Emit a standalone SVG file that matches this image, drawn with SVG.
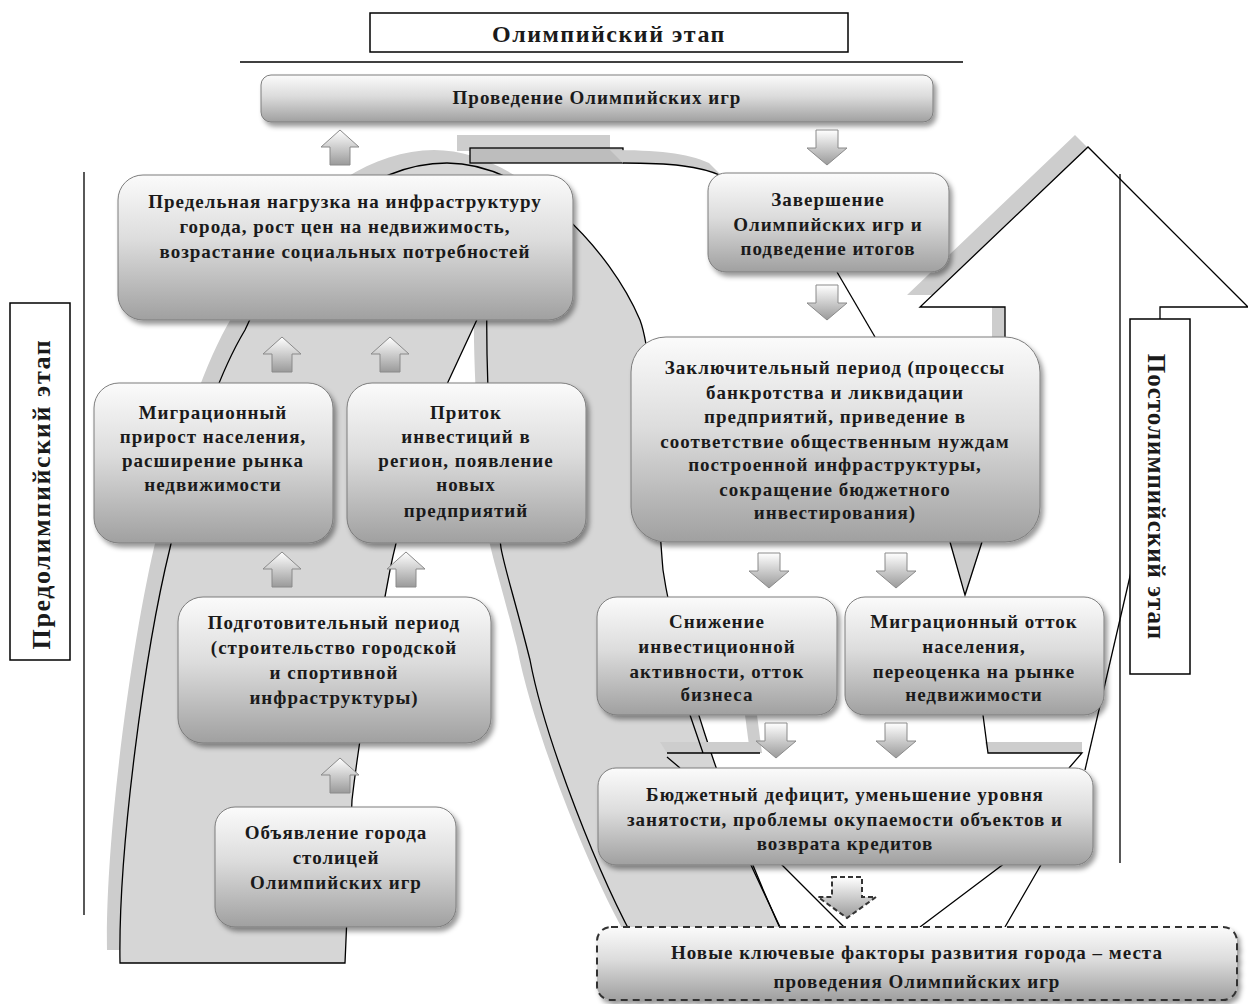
<svg xmlns="http://www.w3.org/2000/svg" width="1248" height="1004" viewBox="0 0 1248 1004">
<defs>
<linearGradient id="gBox" x1="0" y1="0" x2="0" y2="1">
<stop offset="0" stop-color="#fbfbfb"/>
<stop offset="0.45" stop-color="#dcdcdc"/>
<stop offset="1" stop-color="#a0a0a0"/>
</linearGradient>
<linearGradient id="gArr" x1="0" y1="0" x2="0" y2="1">
<stop offset="0" stop-color="#ffffff"/>
<stop offset="1" stop-color="#9a9a9a"/>
</linearGradient>
<filter id="sh" x="-10%" y="-10%" width="125%" height="135%">
<feDropShadow dx="3" dy="4" stdDeviation="2.5" flood-color="#000" flood-opacity="0.4"/>
</filter>
<path id="up" d="M0 0 L19 17 L10 17 L10 35 L-10 35 L-10 17 L-19 17 Z"/>
<path id="dn" d="M-11 0 L11 0 L11 18 L20 18 L0 35 L-20 18 L-11 18 Z"/>
<style>
.bx{fill:url(#gBox);stroke:#7d7d7d;stroke-width:1;filter:url(#sh)}
.t{font-family:"Liberation Serif","Times New Roman",serif;font-weight:bold;font-size:19px;letter-spacing:1px;fill:#1a1a1a;text-anchor:middle}
.ar{fill:url(#gArr);stroke:#8a8a8a;stroke-width:1}
.ln{fill:none;stroke:#000;stroke-width:1.3}
.gr{fill:#cdcdcd;stroke:none}
.lab{fill:#fff;stroke:#000;stroke-width:1.5}
</style>
</defs>
<rect x="0" y="0" width="1248" height="1004" fill="#fff"/>

<g id="background">
<path class="gr" transform="translate(-13,-13)" d="M120 963 C118 850 145 650 170 548 C190 460 215 380 245 330 C290 230 370 163 447 163 C530 163 610 250 640 320 C655 360 655 480 663 570 C675 650 720 800 790 950 L640 950 C600 880 545 740 530 660 C515 600 505 570 501 548 C495 500 485 400 487 298 L448 382 C425 440 400 520 390 570 C375 650 360 730 352 800 L345 963 Z"/>
<path fill="#d6d6d6" stroke="#000" stroke-width="1.3" d="M120 963 C118 850 145 650 170 548 C190 460 215 380 245 330 C290 230 370 163 447 163 C530 163 610 250 640 320 C655 360 655 480 663 570 C675 650 720 800 790 950 L640 950 C600 880 545 740 530 660 C515 600 505 570 501 548 C495 500 485 400 487 298 L448 382 C425 440 400 520 390 570 C375 650 360 730 352 800 L345 963 Z"/>
<rect class="gr" x="457" y="135" width="153" height="16"/>
<rect x="470" y="148" width="153" height="15" fill="#bdbdbd" stroke="#000" stroke-width="1.3"/>
<path class="gr" d="M623 163 C670 163 700 166 722 176 L709 163 C687 153 657 150 610 150 Z"/>
<path class="ln" d="M623 163 C670 163 700 166 722 176"/>
<path class="ln" d="M837 272 L875 337"/>
<path class="gr" d="M950 542 L982 542 L966 595 Z"/>
<path class="ln" d="M950 542 L965 595 L982 542"/>
<path class="gr" d="M745 715 L757 715 L762 753 L750 753 Z"/>
<path class="gr" d="M660 742 L760 742 L760 753 L667 753 Z"/>
<path class="ln" d="M690 715 L703 753 M667 753 L760 753 M667 757 L680 768"/>
<path class="gr" d="M985 742 L1082 742 L1082 753 L988 753 Z"/>
<path class="ln" d="M983 715 L988 753 L1082 753 L1069 768"/>
<path class="ln" d="M750 863 L780 927 M780 863 L844 927 M1005 863 L920 927 M1042 863 L1005 927"/>
<path class="ln" d="M1131 572 L1085 770"/>
<path class="gr" transform="translate(-13,-12)" d="M1088 147 L1250 309 L1160 309 L1160 520 L1005 520 L1005 307 L920 307 Z"/>
<path fill="#fff" d="M1088 147 L1250 309 L1160 309 L1160 520 L1005 520 L1005 307 L920 307 Z"/>
<path class="ln" d="M1005 520 L1005 307 L920 307 L1088 147 L1248 307 L1160 307 L1160 520"/>
<path class="ln" d="M84 172 L84 915 M1120 174 L1120 863" stroke-width="1.5"/>
<path class="ln" d="M240 62 L963 62" stroke-width="1.5"/>
</g>

<g id="title">
<rect class="lab" x="370" y="13" width="478" height="39"/>
<text x="609" y="42" class="t" style="font-size:24px;letter-spacing:1.5px">Олимпийский этап</text>
</g>
<g id="label-pre">
<rect class="lab" x="10" y="303" width="60" height="357"/>
<text class="t" transform="translate(40,494) rotate(-90)" x="0" y="10" style="font-size:26px;letter-spacing:1.6px">Предолимпийский этап</text>
</g>
<g id="label-post">
<rect class="lab" x="1130" y="319" width="60" height="355"/>
<text class="t" transform="translate(1160,497) rotate(90)" x="0" y="12" style="font-size:25px;letter-spacing:1px">Постолимпийский этап</text>
</g>

<g id="n-games">
<rect class="bx" x="261" y="75" width="672" height="47" rx="10"/>
<text class="t" x="597" y="104">Проведение Олимпийских игр</text>
</g>
<g id="n-peak">
<rect class="bx" x="118" y="175" width="455" height="145" rx="25"/>
<text class="t" x="345" y="208">Предельная нагрузка на инфраструктуру</text>
<text class="t" x="345" y="233">города, рост цен на недвижимость,</text>
<text class="t" x="345" y="258">возрастание социальных потребностей</text>
</g>
<g id="n-end">
<rect class="bx" x="708" y="173" width="241" height="99" rx="18"/>
<text class="t" x="828" y="206">Завершение</text>
<text class="t" x="828" y="231">Олимпийских игр и</text>
<text class="t" x="828" y="255">подведение итогов</text>
</g>
<g id="n-migr-in">
<rect class="bx" x="94" y="383" width="239" height="160" rx="25"/>
<text class="t" x="213" y="419">Миграционный</text>
<text class="t" x="213" y="443">прирост населения,</text>
<text class="t" x="213" y="467">расширение рынка</text>
<text class="t" x="213" y="491">недвижимости</text>
</g>
<g id="n-invest">
<rect class="bx" x="347" y="383" width="239" height="160" rx="25"/>
<text class="t" x="466" y="419">Приток</text>
<text class="t" x="466" y="443">инвестиций в</text>
<text class="t" x="466" y="467">регион, появление</text>
<text class="t" x="466" y="491">новых</text>
<text class="t" x="466" y="517">предприятий</text>
</g>
<g id="n-prep">
<rect class="bx" x="178" y="597" width="313" height="146" rx="25"/>
<text class="t" x="334" y="629">Подготовительный период</text>
<text class="t" x="334" y="654">(строительство городской</text>
<text class="t" x="334" y="679">и спортивной</text>
<text class="t" x="334" y="704">инфраструктуры)</text>
</g>
<g id="n-announce">
<rect class="bx" x="215" y="807" width="241" height="120" rx="20"/>
<text class="t" x="336" y="839">Объявление города</text>
<text class="t" x="336" y="864">столицей</text>
<text class="t" x="336" y="889">Олимпийских игр</text>
</g>
<g id="n-final">
<rect class="bx" x="631" y="337" width="409" height="205" rx="35"/>
<text class="t" x="835" y="374">Заключительный период (процессы</text>
<text class="t" x="835" y="399">банкротства и ликвидации</text>
<text class="t" x="835" y="423">предприятий, приведение в</text>
<text class="t" x="835" y="448">соответствие общественным нуждам</text>
<text class="t" x="835" y="471">построенной инфраструктуры,</text>
<text class="t" x="835" y="496">сокращение бюджетного</text>
<text class="t" x="835" y="519">инвестирования)</text>
</g>
<g id="n-decline">
<rect class="bx" x="597" y="597" width="240" height="118" rx="20"/>
<text class="t" x="717" y="628">Снижение</text>
<text class="t" x="717" y="653">инвестиционной</text>
<text class="t" x="717" y="678">активности, отток</text>
<text class="t" x="717" y="701">бизнеса</text>
</g>
<g id="n-migr-out">
<rect class="bx" x="845" y="597" width="259" height="118" rx="20"/>
<text class="t" x="974" y="628">Миграционный отток</text>
<text class="t" x="974" y="653">населения,</text>
<text class="t" x="974" y="678">переоценка на рынке</text>
<text class="t" x="974" y="701">недвижимости</text>
</g>
<g id="n-deficit">
<rect class="bx" x="598" y="768" width="495" height="97" rx="18"/>
<text class="t" x="845" y="801">Бюджетный дефицит, уменьшение уровня</text>
<text class="t" x="845" y="826">занятости, проблемы окупаемости объектов и</text>
<text class="t" x="845" y="850">возврата кредитов</text>
</g>
<g id="n-new">
<rect x="597" y="927" width="640" height="73" rx="14" fill="url(#gBox)" stroke="#333" stroke-width="2" stroke-dasharray="7 5" filter="url(#sh)"/>
<text class="t" x="917" y="959">Новые ключевые факторы развития города – места</text>
<text class="t" x="917" y="988">проведения Олимпийских игр</text>
</g>

<g id="connectors">
<use href="#up" class="ar" transform="translate(340,130)"/>
<use href="#up" class="ar" transform="translate(282,337)"/>
<use href="#up" class="ar" transform="translate(390,337)"/>
<use href="#up" class="ar" transform="translate(282,552)"/>
<use href="#up" class="ar" transform="translate(406,552)"/>
<use href="#up" class="ar" transform="translate(340,758)"/>
<use href="#dn" class="ar" transform="translate(827,130)"/>
<use href="#dn" class="ar" transform="translate(827,285)"/>
<use href="#dn" class="ar" transform="translate(769,553)"/>
<use href="#dn" class="ar" transform="translate(896,553)"/>
<use href="#dn" class="ar" transform="translate(776,723)"/>
<use href="#dn" class="ar" transform="translate(896,723)"/>
<path d="M832 877 L862 877 L862 897 L876 897 L847 918 L818 897 L832 897 Z" fill="url(#gArr)" stroke="#333" stroke-width="2" stroke-dasharray="5 3"/>
</g>
</svg>
